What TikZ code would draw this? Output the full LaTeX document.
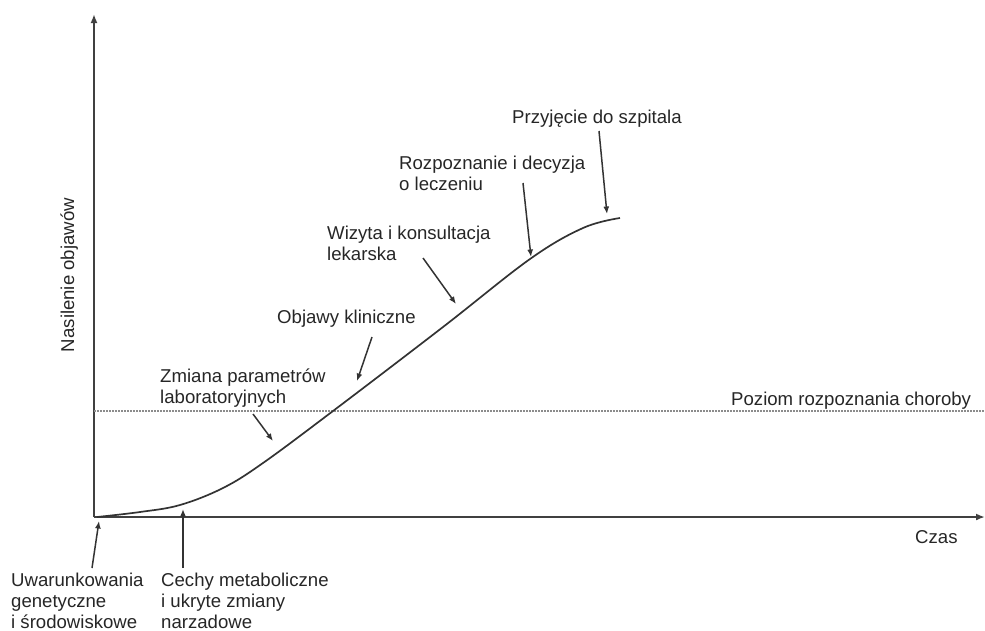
\documentclass[tikz,border=0pt]{standalone}
\usepackage{fontspec}
\setmainfont{Liberation Sans}
\usetikzlibrary{arrows.meta}
\begin{document}
\begin{tikzpicture}[x=1pt,y=-1pt,
  lbl/.style={anchor=base west,inner sep=0pt,align=left,font=\fontsize{18.6}{21}\selectfont,text=black!85},
  ax/.style={draw=black!75,line width=1.8pt,-{Latex[length=9pt,width=7pt]}},
  ptr/.style={draw=black!80,line width=1.5pt,-{Latex[length=7.5pt,width=6pt]}},
  curvestyle/.style={draw=black!80,line width=1.7pt}]
\useasboundingbox (0,0) rectangle (985,630);
% axes
\coordinate (O) at (94,517);
\coordinate (Ytop) at (94,14);
\coordinate (Xend) at (985,517);
\draw[ax] (O) -- (Ytop);
\draw[ax] (O) -- (Xend);
% threshold
\coordinate (T1) at (94,411);
\coordinate (T2) at (985,411);
\draw[black!45,line width=1.3pt,dash pattern=on 2pt off 1pt] (T1) -- (T2);
% curve
\draw[curvestyle] plot[smooth,tension=0.6] coordinates {(97,517) (140,512) (180,505) (223,488) (263,463) (333,411) (443,327) (530,259) (583,228) (620,218)};
% labels
\node[lbl] (przy) at (512,123) {Przyjęcie do szpitala};
\node[lbl] (rozp) at (399,190) {Rozpoznanie i decyzja\\o leczeniu};
\node[lbl] (wiz) at (327,260) {Wizyta i konsultacja\\lekarska};
\node[lbl] (obj) at (277,323) {Objawy kliniczne};
\node[lbl] (zm) at (160,403) {Zmiana parametrów\\laboratoryjnych};
\node[lbl] (poz) at (731,405) {Poziom rozpoznania choroby};
\node[lbl] (czas) at (915,543) {Czas};
\node[lbl] (uw) at (11,628) {Uwarunkowania\\genetyczne\\i środowiskowe};
\node[lbl] (ce) at (161,628) {Cechy metaboliczne\\i ukryte zmiany\\narzadowe};
\node[lbl,anchor=base,rotate=90] (nas) at (74,275) {Nasilenie objawów};
% pointer ends
\coordinate (a1s) at (92,568); \coordinate (a1e) at (99,521);
\coordinate (a2s) at (183,568); \coordinate (a2e) at (183,509);
\coordinate (a3s) at (253,414); \coordinate (a3e) at (273,441);
\coordinate (a4s) at (372,337); \coordinate (a4e) at (357,381);
\coordinate (a5s) at (423,258); \coordinate (a5e) at (456,304);
\coordinate (a6s) at (523,183); \coordinate (a6e) at (531,257);
\coordinate (a7s) at (599,131); \coordinate (a7e) at (607,214);
\draw[ptr] (a1s) -- (a1e);
\draw[ptr] (a2s) -- (a2e);
\draw[ptr] (a3s) -- (a3e);
\draw[ptr] (a4s) -- (a4e);
\draw[ptr] (a5s) -- (a5e);
\draw[ptr] (a6s) -- (a6e);
\draw[ptr] (a7s) -- (a7e);
\end{tikzpicture}
\end{document}
